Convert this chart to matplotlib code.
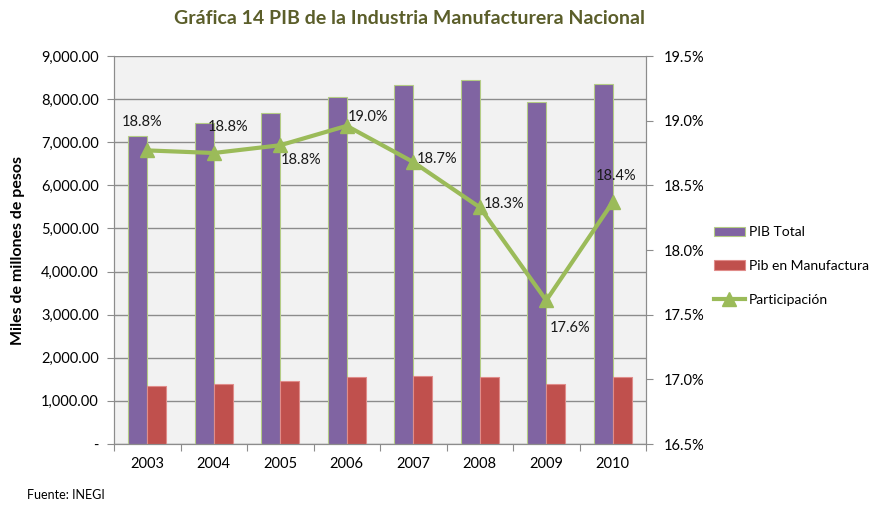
import numpy as np
import matplotlib
matplotlib.use("Agg")
import matplotlib.pyplot as plt
from matplotlib.ticker import FuncFormatter

plt.rcParams["font.family"] = ["Lato", "DejaVu Sans"]

years = ["2003", "2004", "2005", "2006", "2007", "2008", "2009", "2010"]
pib_total = [7146, 7448, 7680, 8051, 8329, 8445, 7935, 8352]
pib_manufactura = [1346, 1392, 1454, 1547, 1570, 1547, 1392, 1547]
participacion = [18.77, 18.75, 18.81, 18.96, 18.68, 18.33, 17.61, 18.37]

# label offsets in pixels (dx, dy) per point
label_offsets = [(-5, 28), (14, 26), (21, -15), (21, 9), (24, 3), (24, 3), (24, -28), (3, 26)]

PURPLE = "#8064A2"
RED = "#C0504D"
GREEN = "#9BBB59"
GRID = "#8C8C8C"

fig = plt.figure(figsize=(8.9, 5.07), dpi=100)
ax = fig.add_axes([114/890, 1-444/507, (646-114)/890, (444-56)/507])
ax2 = ax.twinx()

x = np.arange(len(years))
w = 0.285
ax.set_facecolor("#F2F2F2")
b1 = ax.bar(x - w/2, pib_total, w, color=PURPLE, edgecolor="#B4CC85", lw=0.8, label="PIB Total", zorder=3)
b2 = ax.bar(x + w/2, pib_manufactura, w, color=RED, edgecolor="#E08C8A", lw=0.8, label="Pib en Manufactura", zorder=3)

ax.set_xlim(-0.5, len(years) - 0.5)
ax.set_ylim(0, 9000)
ax.set_yticks(np.arange(0, 9001, 1000))
ax.yaxis.set_major_formatter(FuncFormatter(lambda v, p: "-" if v == 0 else f"{v:,.2f}"))
ax.grid(axis="y", color=GRID, lw=1, zorder=1)
ax.set_axisbelow(True)

# x ticks: marks at boundaries, labels at centers
ax.set_xticks(np.arange(-0.5, len(years), 1.0))
ax.set_xticklabels([])
ax.set_xticks(x, minor=True)
ax.set_xticklabels(years, minor=True)
ax.tick_params(axis="x", which="major", length=5, color=GRID, direction="out")
ax.tick_params(axis="x", which="minor", length=0, pad=9, labelsize=10.5)
ax.tick_params(axis="y", length=5, color=GRID, labelsize=10.5, pad=6)

ax.spines["top"].set_visible(False)
ax2.spines["top"].set_visible(False)
for s in ["left", "right", "bottom"]:
    ax.spines[s].set_color(GRID)
    ax2.spines[s].set_color(GRID)

ax2.plot(x, participacion, color=GREEN, lw=3, marker="^", ms=10, label="Participación", zorder=4)
ax2.set_ylim(16.5, 19.5)
ax2.set_yticks(np.arange(16.5, 19.51, 0.5))
ax2.yaxis.set_major_formatter(FuncFormatter(lambda v, p: f"{v:.1f}%"))
ax2.tick_params(axis="y", length=5, color=GRID, labelsize=10.5, pad=8)

for xi, v, (dx, dy) in zip(x, participacion, label_offsets):
    ax2.annotate(f"{v:.1f}%", (xi, v), xytext=(dx, dy), textcoords="offset pixels",
                 ha="center", va="center", fontsize=10.5, color="#1a1a1a")

fig.text(18/890, 1-250/507, "Miles de millones de pesos", rotation=90,
         ha="center", va="center", fontsize=11.5, fontweight="bold")

fig.text(410/890, 1-19/507, "Gráfica 14 PIB de la Industria Manufacturera Nacional",
         ha="center", va="center", fontsize=14, fontweight="bold", color="#5B5E2A")
fig.text(27/890, 1-495/507, "Fuente: INEGI", ha="left", va="center", fontsize=9)

handles = [b1, b2, ax2.lines[0]]
fig.legend(handles, [h.get_label() for h in handles], loc="center left",
           bbox_to_anchor=(714/890, 1-266/507), frameon=False, fontsize=10,
           labelspacing=1.55, handlelength=2.2, handletextpad=0.3,
           borderaxespad=0, borderpad=0)

fig.savefig("out.png", dpi=100)
